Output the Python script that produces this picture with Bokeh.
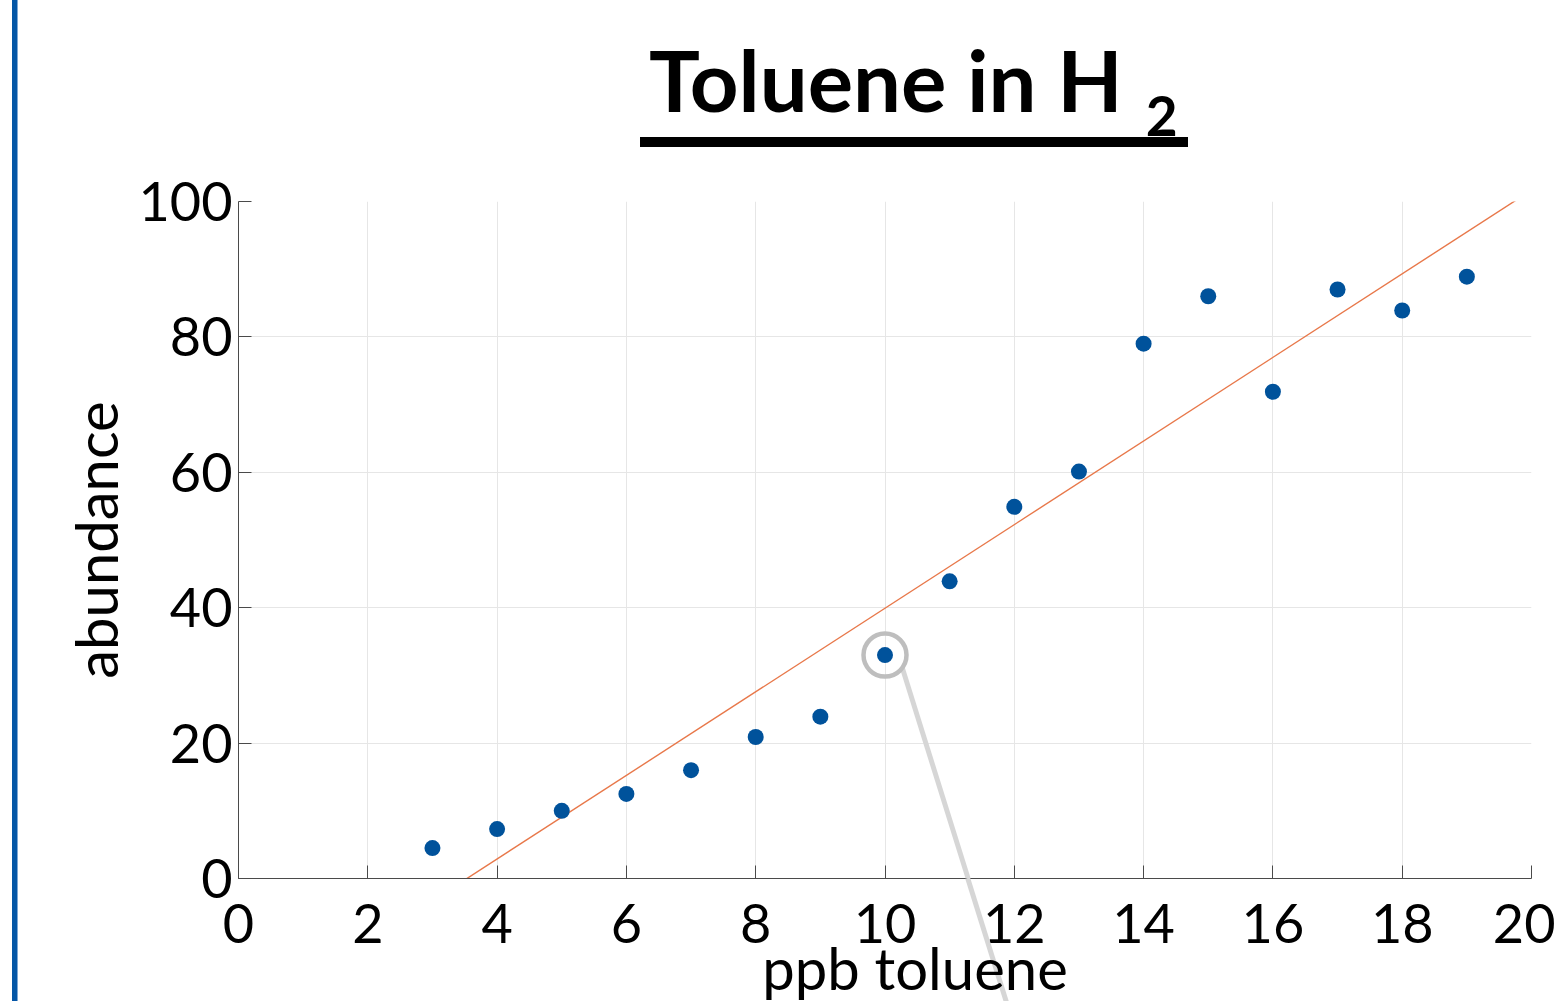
import numpy as np
from bokeh.plotting import figure
from bokeh.models import FixedTicker, Div
from bokeh.layouts import row, column
from bokeh.embed import file_html
from bokeh.resources import INLINE

# ---------------- data ----------------
ppb = [3, 4, 5, 6, 7, 8, 9, 10, 11, 12, 13, 14, 15, 16, 17, 18, 19]
abundance = [4.5, 7.3, 10.0, 12.5, 16.0, 20.9, 23.9, 33.0, 43.9, 54.9,
             60.1, 79.0, 86.0, 71.9, 87.0, 83.9, 88.9]
x_ticks = [0, 2, 4, 6, 8, 10, 12, 14, 16, 18, 20]
y_ticks = [0, 20, 40, 60, 80, 100]
title_main = "Toluene in H"
title_sub = "2"
x_label = "ppb toluene"
y_label = "abundance"
highlight_ppb = 10

# ---------------- layout ----------------
W, H = 1555, 1001
BAR_W = 18           # width of the left accent strip
TITLE_H = 160        # height of the title block
FL, FR, FT, FB = 238, 1531, 201, 878   # frame edges in window pixels
X0, X1 = x_ticks[0], x_ticks[-1]
Y0, Y1 = y_ticks[0], y_ticks[-1]
FONT = "Lato"
BOTTOM_H = H - FB


def px_to_x(px):
    return X0 + (px - FL) / (FR - FL) * (X1 - X0)


def py_to_y(py):
    return Y0 + (FB - py) / (FB - FT) * (Y1 - Y0)


p = figure(width=W - BAR_W, height=H - TITLE_H,
           x_range=(X0, X1), y_range=(Y0, Y1),
           output_backend="svg", toolbar_location=None,
           min_border_left=FL - BAR_W, min_border_right=W - FR,
           min_border_top=FT - TITLE_H, min_border_bottom=BOTTOM_H)
p.outline_line_color = None
p.background_fill_color = "white"
p.border_fill_color = "white"

for ax, ticks in ((p.xaxis, x_ticks), (p.yaxis, y_ticks)):
    ax.ticker = FixedTicker(ticks=ticks)
    ax.major_tick_in = 13
    ax.major_tick_out = 0
    ax.minor_tick_in = 0
    ax.minor_tick_out = 0
    ax.axis_line_color = "#4a4a4a"
    ax.major_tick_line_color = "#4a4a4a"
    ax.major_label_text_font = FONT
    ax.major_label_text_font_size = "54px"
    ax.major_label_text_color = "black"
    ax.axis_label_text_font = FONT
    ax.axis_label_text_font_size = "58px"
    ax.axis_label_text_font_style = "normal"
    ax.axis_label_text_color = "black"

p.xaxis.major_label_standoff = 25
p.yaxis.major_label_standoff = 6
p.yaxis.axis_label = y_label
p.yaxis.axis_label_standoff = 6

p.xgrid.ticker = FixedTicker(ticks=x_ticks)
p.ygrid.ticker = FixedTicker(ticks=y_ticks)
p.grid.grid_line_color = "#e6e6e6"
p.grid.grid_line_width = 1

# least-squares reference line across the whole axes
m, b = np.polyfit(ppb, abundance, 1)
fit_x = [X0, X1]
fit_y = [m * X0 + b, m * X1 + b]
p.line(fit_x, fit_y, line_color="#E8784A", line_width=1.4)

# data points
p.scatter(ppb, abundance, size=16, fill_color="#00529B", line_color=None)

# highlight ring with a leader line running down off the axes
hi = ppb.index(highlight_ppb)
hx, hy = ppb[hi], abundance[hi]
LEAD_START = (902, 668)      # window px, on the ring's edge
LEAD_SLOPE = 0.3125          # px right per px down
cross_px = LEAD_START[0] + LEAD_SLOPE * (FB - LEAD_START[1])  # at the x axis
p.segment(x0=[px_to_x(LEAD_START[0])], y0=[py_to_y(LEAD_START[1])],
          x1=[px_to_x(cross_px)], y1=[py_to_y(FB)],
          line_color="#D6D6D6", line_width=5)
p.scatter([hx], [hy], size=43, fill_color=None,
          line_color="#BEBEBE", line_width=4.5)

# ---------------- title block ----------------
title_html = (
    '<div style="position:relative; width:%dpx; height:%dpx;">'
    '<span style="position:absolute; left:631px; top:37px; white-space:nowrap;'
    ' font-family:Lato; font-weight:bold; font-size:85px; line-height:85px;'
    ' color:black;">%s<span style="font-size:55px; vertical-align:-24px;'
    ' margin-left:23px;">%s</span></span>'
    '<div style="position:absolute; left:622px; top:137px; width:548px;'
    ' height:10px; background:black;"></div>'
    '</div>' % (W - BAR_W, TITLE_H, title_main, title_sub)
)
title_div = Div(text=title_html, width=W - BAR_W, height=TITLE_H,
                styles={"margin": "0", "padding": "0"})

# ---------------- band below the axis (overlaid on the figure's bottom) ----
lead_x0 = cross_px - BAR_W
lead_x1 = lead_x0 + LEAD_SLOPE * (BOTTOM_H + 10)
label_cx = 915 - BAR_W
bottom_html = (
    '<div style="position:relative; width:%dpx; height:%dpx;">'
    '<svg width="%d" height="%d" style="position:absolute; left:0; top:0;">'
    '<line x1="%.1f" y1="0" x2="%.1f" y2="%d" stroke="#D6D6D6"'
    ' stroke-width="5"/></svg>'
    '<span style="position:absolute; left:%dpx; top:61px;'
    ' transform:translateX(-50%%); white-space:nowrap; font-family:Lato;'
    ' font-size:58px; line-height:58px; color:black;">%s</span>'
    '</div>' % (W - BAR_W, BOTTOM_H, W - BAR_W, BOTTOM_H, lead_x0, lead_x1,
                BOTTOM_H + 10, label_cx, x_label)
)
bottom_div = Div(text=bottom_html, width=W - BAR_W, height=BOTTOM_H,
                 styles={"margin": "0", "padding": "0",
                         "margin-top": "-%dpx" % BOTTOM_H,
                         "position": "relative", "z-index": "5",
                         "pointer-events": "none"})

# ---------------- accent strip ----------------
bar_div = Div(text="", width=BAR_W, height=H,
              styles={"background": "linear-gradient(to right, white 12px,"
                                    " #0456A6 12px, #0456A6 17px, #7FA8D4 17px)",
                      "margin": "0", "padding": "0"})

layout = row(bar_div, column(title_div, p, bottom_div, spacing=0), spacing=0)

open("out.html", "w").write(file_html(layout, INLINE))
